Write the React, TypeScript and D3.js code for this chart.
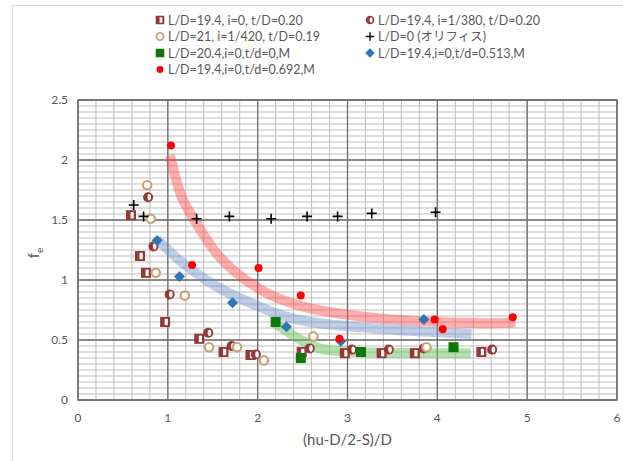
import React from "react";
import * as d3 from "d3";

// ---- data ----
const s1_x = [0.59, 0.69, 0.757, 0.97, 1.35, 1.62, 1.92, 2.49, 2.97, 3.38, 3.75, 4.49];
const s1_y = [1.54, 1.2, 1.06, 0.65, 0.51, 0.4, 0.375, 0.4, 0.39, 0.39, 0.39, 0.4];
const s2_x = [0.78, 0.84, 1.02, 1.45, 1.71, 1.98, 2.58, 3.05, 3.46, 3.85, 4.61];
const s2_y = [1.69, 1.28, 0.88, 0.56, 0.45, 0.38, 0.43, 0.42, 0.42, 0.43, 0.42];
const s3_x = [0.77, 0.81, 0.865, 1.19, 1.46, 1.77, 2.07, 2.62, 3.88];
const s3_y = [1.79, 1.51, 1.06, 0.87, 0.44, 0.44, 0.33, 0.53, 0.44];
const s4_x = [0.62, 0.73, 1.32, 1.685, 2.15, 2.55, 2.89, 3.27, 3.98];
const s4_y = [1.625, 1.53, 1.51, 1.53, 1.51, 1.53, 1.53, 1.555, 1.565];
const s5_x = [2.2, 2.48, 3.15, 4.18];
const s5_y = [0.65, 0.35, 0.4, 0.44];
const s6_x = [0.88, 1.13, 1.72, 2.32, 2.925, 3.85];
const s6_y = [1.33, 1.03, 0.81, 0.61, 0.49, 0.67];
const s7_x = [1.035, 1.27, 2.01, 2.48, 2.91, 3.97, 4.06, 4.84];
const s7_y = [2.12, 1.125, 1.1, 0.87, 0.51, 0.67, 0.59, 0.69];

// trend bands
const redTrend_x = [1.025, 1.155, 1.32, 1.545, 1.77, 2.03, 2.29, 2.55, 3.0, 3.5, 4.0, 4.5, 4.87];
const redTrend_y = [2.04, 1.69, 1.47, 1.22, 1.055, 0.92, 0.83, 0.77, 0.71, 0.67, 0.65, 0.64, 0.645];
const blueTrend_x = [0.88, 1.17, 1.545, 1.92, 2.29, 2.58, 3.25, 3.99, 4.38];
const blueTrend_y = [1.34, 1.14, 0.945, 0.81, 0.7, 0.65, 0.6, 0.565, 0.55];
const greenTrend_x = [2.19, 2.36, 2.51, 2.69, 2.88, 3.25, 3.81, 4.37];
const greenTrend_y = [0.64, 0.555, 0.49, 0.43, 0.41, 0.395, 0.39, 0.39];

const xTicks = [0, 1, 2, 3, 4, 5, 6];
const yTicks = [0, 0.5, 1, 1.5, 2, 2.5];

const legendLabels = [
  "L/D=19.4, i=0, t/D=0.20",
  "L/D=19.4, i=1/380, t/D=0.20",
  "L/D=21, i=1/420, t/D=0.19",
  "L/D=0 (オリフィス)",
  "L/D=20.4,i=0,t/d=0,M",
  "L/D=19.4,i=0,t/d=0.513,M",
  "L/D=19.4,i=0,t/d=0.692,M",
];

const W = 623;
const H = 461;
const left = 78, right = 617, top = 100, bottom = 400;

const x = d3.scaleLinear().domain([0, 6]).range([left, right]);
const y = d3.scaleLinear().domain([0, 2.5]).range([bottom, top]);

const DARKRED = "#953735";
const TAN = "#c9a27a";
const GREEN = "#0b7a0b";
const BLUE = "#2e75b6";
const RED = "#ff0000";
const FONT = "Lato, 'Noto Sans CJK JP', sans-serif";
const GRAY_TXT = "#595959";

type Kind = 1 | 2 | 3 | 4 | 5 | 6 | 7;

function Marker({ kind, cx, cy, s = 1 }: { kind: Kind; cx: number; cy: number; s?: number }) {
  const k = s;
  switch (kind) {
    case 1:
      return (
        <g>
          <rect x={cx - 5 * k} y={cy - 5 * k} width={10 * k} height={10 * k} fill={DARKRED} />
          <rect x={cx - 0.5 * k} y={cy - 3.2 * k} width={3.2 * k} height={6.4 * k} fill="#fff" />
        </g>
      );
    case 2:
      return (
        <g>
          <circle cx={cx} cy={cy} r={5 * k} fill={DARKRED} />
          <ellipse cx={cx + 1.2 * k} cy={cy} rx={1.8 * k} ry={3.1 * k} fill="#fff" />
        </g>
      );
    case 3:
      return <circle cx={cx} cy={cy} r={4.2 * k} fill="#fff" stroke={TAN} strokeWidth={2.2 * k} />;
    case 4:
      return (
        <path
          d={`M${cx - 5 * k},${cy}H${cx + 5 * k}M${cx},${cy - 5 * k}V${cy + 5 * k}`}
          stroke="#000"
          strokeWidth={1.6 * k}
        />
      );
    case 5:
      return <rect x={cx - 5 * k} y={cy - 5 * k} width={10 * k} height={10 * k} fill={GREEN} />;
    case 6:
      return (
        <path
          d={`M${cx},${cy - 5.5 * k}L${cx + 5.5 * k},${cy}L${cx},${cy + 5.5 * k}L${cx - 5.5 * k},${cy}Z`}
          fill={BLUE}
        />
      );
    case 7:
      return <circle cx={cx} cy={cy} r={4 * k} fill={RED} />;
  }
  return null;
}

const series: { kind: Kind; xs: number[]; ys: number[] }[] = [
  { kind: 1, xs: s1_x, ys: s1_y },
  { kind: 2, xs: s2_x, ys: s2_y },
  { kind: 3, xs: s3_x, ys: s3_y },
  { kind: 4, xs: s4_x, ys: s4_y },
  { kind: 5, xs: s5_x, ys: s5_y },
  { kind: 6, xs: s6_x, ys: s6_y },
  { kind: 7, xs: s7_x, ys: s7_y },
];

const line = d3
  .line<[number, number]>()
  .x((d) => x(d[0]))
  .y((d) => y(d[1]))
  .curve(d3.curveCatmullRom.alpha(0.5));

function zip(a: number[], b: number[]): [number, number][] {
  return a.map((v, i) => [v, b[i]]);
}

export default function App() {
  const minorX = d3.range(0, 6.0001, 0.2);
  const minorY = d3.range(0, 2.5001, 0.05);
  const legendOrder: Kind[] = [1, 2, 3, 4, 5, 6, 7];
  const rowY = [20, 36.5, 53, 69.5];
  const colX = [160, 370];

  return (
    <svg
      width={W}
      height={H}
      style={{ position: "absolute", left: 0, top: 0, background: "#fff" }}
      fontFamily={FONT}
    >
      <rect x={0} y={0} width={W} height={H} fill="#fff" />
      {/* outer chart frame */}
      <path d={`M12.5,${H}V5.5H${W}`} fill="none" stroke="#d9d9d9" strokeWidth={1} />

      {/* minor grid */}
      {minorX.map((v, i) => (
        <line key={"mx" + i} x1={x(v)} x2={x(v)} y1={top} y2={bottom} stroke="#bdbdbd" strokeWidth={1} />
      ))}
      {minorY.map((v, i) => (
        <line key={"my" + i} x1={left} x2={right} y1={y(v)} y2={y(v)} stroke="#bdbdbd" strokeWidth={1} />
      ))}
      {/* major grid */}
      {xTicks.map((v) => (
        <line key={"Mx" + v} x1={x(v)} x2={x(v)} y1={top} y2={bottom} stroke="#6e6e6e" strokeWidth={1.3} />
      ))}
      {yTicks.map((v) => (
        <line key={"My" + v} x1={left} x2={right} y1={y(v)} y2={y(v)} stroke="#6e6e6e" strokeWidth={1.3} />
      ))}
      <rect x={left} y={top} width={right - left} height={bottom - top} fill="none" stroke="#6e6e6e" strokeWidth={1.3} />

      {/* trend bands */}
      <path d={line(zip(redTrend_x, redTrend_y)) || ""} fill="none" stroke="#ff3b3b" strokeOpacity={0.42} strokeWidth={10} />
      <path d={line(zip(blueTrend_x, blueTrend_y)) || ""} fill="none" stroke="#6f93c9" strokeOpacity={0.45} strokeWidth={10} />
      <path d={line(zip(greenTrend_x, greenTrend_y)) || ""} fill="none" stroke="#6cbf5a" strokeOpacity={0.5} strokeWidth={10} />

      {/* markers */}
      {series.map((s) =>
        s.xs.map((xv, i) => <Marker key={s.kind + "-" + i} kind={s.kind} cx={x(xv)} cy={y(s.ys[i])} />)
      )}

      {/* axis labels */}
      {xTicks.map((v) => (
        <text key={"xt" + v} x={x(v)} y={422} textAnchor="middle" fontSize={12} fill={GRAY_TXT}>
          {v}
        </text>
      ))}
      {yTicks.map((v) => (
        <text key={"yt" + v} x={68} y={y(v) + 4} textAnchor="end" fontSize={12} fill={GRAY_TXT}>
          {v}
        </text>
      ))}
      <text x={(left + right) / 2} y={445} textAnchor="middle" fontSize={15} fill={GRAY_TXT}>
        (hu-D/2-S)/D
      </text>
      <text transform={`translate(39,253) rotate(-90)`} textAnchor="middle" fontSize={15} fill={GRAY_TXT}>
        f<tspan fontSize={10} dy={4}>e</tspan>
      </text>

      {/* legend */}
      {legendOrder.map((k, i) => {
        const col = i % 2;
        const row = Math.floor(i / 2);
        const cx = colX[col];
        const cy = rowY[row];
        return (
          <g key={"lg" + k}>
            <Marker kind={k} cx={cx} cy={cy} s={0.85} />
            <text x={cx + 8} y={cy + 4.5} fontSize={12.5} fill={GRAY_TXT}>
              {legendLabels[i]}
            </text>
          </g>
        );
      })}
    </svg>
  );
}
